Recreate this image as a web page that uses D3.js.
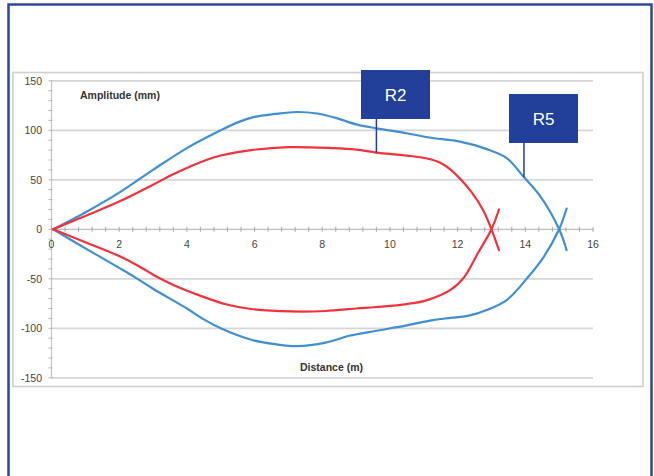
<!DOCTYPE html>
<html><head><meta charset="utf-8">
<script src="https://cdn.jsdelivr.net/npm/d3@7"></script>
<style>body{margin:0;background:#fff}svg{display:block}</style>
</head><body>
<svg id="c" width="654" height="476"></svg>
<script>
// ---- data ----
const redUpperX = [0.05,1,2,3,3.5,4,4.5,5,5.9,7,8.3,9,9.6,10.5,11.1,11.5,11.8,12.4,12.75,13.0,13.22];
const redUpperY = [0,13.5,28,45,54,62,69,74.5,80,83,82,80.5,77.5,74.5,71.5,67,60,38,19.5,0,-21];
const redLowerX = [0.05,1,2,2.57,3.11,3.65,4.39,5.18,5.9,7.1,8.1,9,9.6,10.5,11.1,11.8,12.2,12.6,13.0,13.22];
const redLowerY = [0,-13,-27,-37,-48,-57,-67,-76,-80.5,-83,-82.5,-80,-78.5,-75.5,-71.5,-61,-48,-24,0,20];
const blueUpperX = [0.05,1,2,3,4,5,5.5,6,6.6,7.25,7.85,8.4,9,9.6,10.5,11.3,12,12.86,13.45,13.95,14.45,15.0,15.22];
const blueUpperY = [0,17,37,60,82,100,108,113.5,116.5,118.5,117,112.5,106,102,97,92,89,81,72,53,33,0,-21];
const blueLowerX = [0.05,1.09,2,2.47,3,4,4.5,5,5.5,6,6.6,7.25,8.1,8.8,9.6,10.5,11.3,11.8,12.3,12.86,13.45,14.05,14.55,15.0,15.22];
const blueLowerY = [0,-21,-39,-48.5,-60,-80,-91,-100,-107,-112.5,-116,-118,-114.5,-107.5,-102.5,-97,-91.5,-89.5,-87.5,-81.5,-71.5,-49.5,-27.5,0,21];
const xTicks = [0,2,4,6,8,10,12,14,16];
const yTicks = [-150,-100,-50,0,50,100,150];
const labels = [{text:"R2", x:9.6, y:77.5}, {text:"R5", x:13.96, y:52.8}];
const xTitle = "Distance (m)", yTitle = "Amplitude (mm)";

// ---- layout ----
const svg = d3.select("#c");
const x = d3.scaleLinear().domain([0,16]).range([51.5,593]);
const y = d3.scaleLinear().domain([-150,150]).range([377.8,80.8]);
const BLUE = "#3f8fd2", RED = "#f2313c", NAVY = "#22409a";
const FONT = "Liberation Sans, Arial, sans-serif";

// outer frame
svg.append("rect").attr("x",8.5).attr("y",4.5).attr("width",643).attr("height",480)
  .attr("fill","#fff").attr("stroke","#2c47a3").attr("stroke-width",2.5);
// chart panel
svg.append("rect").attr("x",13).attr("y",72.5).attr("width",630).attr("height",314)
  .attr("fill","#fff").attr("stroke","#cfcfcf").attr("stroke-width",1.6);

// gridlines
svg.append("g").selectAll("line").data(yTicks.filter(d=>d!==0)).join("line")
  .attr("x1",x(0)).attr("x2",x(16)).attr("y1",d=>y(d)).attr("y2",d=>y(d))
  .attr("stroke","#d6d6d6").attr("stroke-width",1.8);

// y axis
svg.append("line").attr("x1",x(0)).attr("x2",x(0)).attr("y1",y(150)).attr("y2",y(-150))
  .attr("stroke","#c4c4c4").attr("stroke-width",1.2);
svg.append("g").selectAll("line").data(d3.range(-150,151,10)).join("line")
  .attr("x1",x(0)-3).attr("x2",x(0)+1).attr("y1",d=>y(d)).attr("y2",d=>y(d))
  .attr("stroke","#b5b5b5").attr("stroke-width",1);
// x axis
svg.append("line").attr("x1",x(0)).attr("x2",x(16)).attr("y1",y(0)).attr("y2",y(0))
  .attr("stroke","#bdbdbd").attr("stroke-width",1.2);
svg.append("g").selectAll("line").data(d3.range(0,41).map(i=>i*0.4)).join("line")
  .attr("x1",d=>x(d)).attr("x2",d=>x(d)).attr("y1",y(0)-2.5).attr("y2",y(0)+2.5)
  .attr("stroke","#a8a8a8").attr("stroke-width",1);

// tick labels
svg.append("g").selectAll("text").data(yTicks).join("text")
  .attr("x",42).attr("y",d=>y(d)+4).attr("text-anchor","end")
  .attr("font-family",FONT).attr("font-size",10.5)
  .attr("fill","#444").text(d=>d);
svg.append("g").selectAll("text").data(xTicks).join("text")
  .attr("x",d=>x(d)).attr("y",y(0)+19).attr("text-anchor","middle")
  .attr("font-family",FONT).attr("font-size",10.5)
  .attr("fill","#444").text(d=>d);

// axis titles
svg.append("text").attr("x",80).attr("y",99).attr("font-family",FONT)
  .attr("font-weight","bold").attr("font-size",10.5).attr("fill","#333").text(yTitle);
svg.append("text").attr("x",300).attr("y",371).attr("font-family",FONT)
  .attr("font-weight","bold").attr("font-size",10.5).attr("fill","#333").text(xTitle);

// curves
const line = d3.line().x(d=>x(d[0])).y(d=>y(d[1])).curve(d3.curveCatmullRom.alpha(0.5));
const series = [
  [blueUpperX, blueUpperY, BLUE], [blueLowerX, blueLowerY, BLUE],
  [redUpperX, redUpperY, RED], [redLowerX, redLowerY, RED]
];
series.forEach(([xs, ys, col]) => {
  svg.append("path").datum(xs.map((v,i)=>[v,ys[i]])).attr("d",line)
    .attr("fill","none").attr("stroke",col).attr("stroke-width",2.2)
    .attr("stroke-linejoin","round").attr("stroke-linecap","round");
});

// annotation boxes
const boxes = [{x:361, y:70, w:69, h:49}, {x:509, y:94, w:69, h:49}];
labels.forEach((L,i) => {
  const b = boxes[i];
  svg.append("line").attr("x1",x(L.x)).attr("x2",x(L.x)).attr("y1",b.y+b.h).attr("y2",y(L.y))
    .attr("stroke",NAVY).attr("stroke-width",1.5);
  svg.append("rect").attr("x",b.x).attr("y",b.y).attr("width",b.w).attr("height",b.h).attr("fill",NAVY);
  svg.append("text").attr("x",b.x+b.w/2).attr("y",b.y+b.h/2+6).attr("text-anchor","middle")
    .attr("font-family",FONT).attr("font-size",17)
    .attr("fill","#fff").text(L.text);
});
</script>
</body></html>
